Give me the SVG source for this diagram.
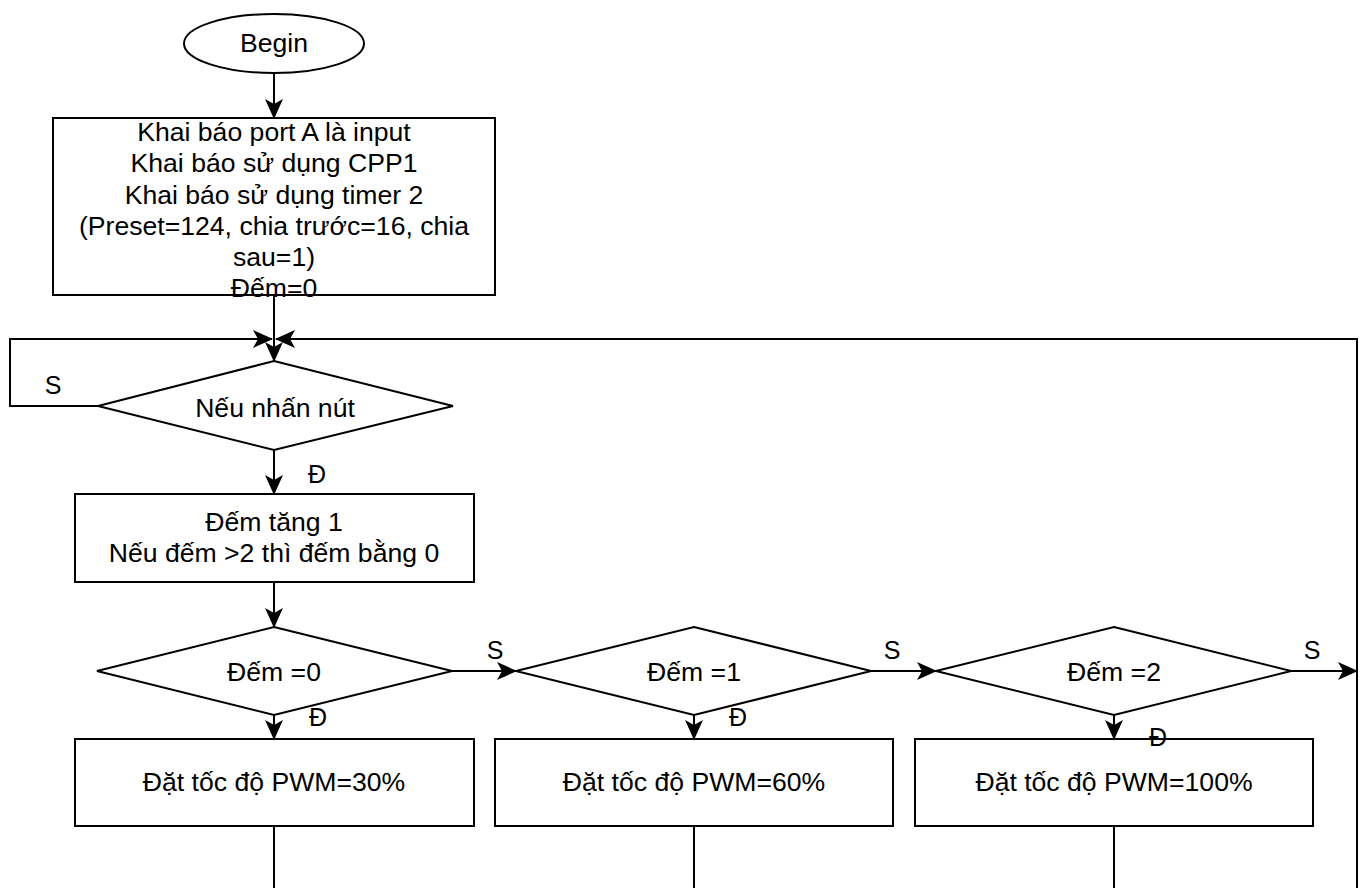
<svg xmlns="http://www.w3.org/2000/svg" width="1366" height="888" viewBox="0 0 1366 888">
<defs>
<marker id="arr" viewBox="0 0 20 18" refX="19" refY="9" markerWidth="20" markerHeight="18" markerUnits="userSpaceOnUse" orient="auto">
<path d="M0,0 L20,9 L0,18 L5,9 Z" fill="#000"/>
</marker>
<style>
.s{fill:#fff;stroke:#000;stroke-width:2}
.e{fill:none;stroke:#000;stroke-width:2}
.t{font-family:"Liberation Sans",Arial,Helvetica,sans-serif;font-size:26.6px;fill:#000;text-anchor:middle}
.l{font-family:"Liberation Sans",Arial,Helvetica,sans-serif;font-size:25px;fill:#000;text-anchor:middle}
</style>
</defs>
<rect width="1366" height="888" fill="#fff"/>
<g id="begin">
<ellipse class="s" cx="274" cy="43.5" rx="90" ry="29.5"/>
<text class="t" x="274" y="52">Begin</text>
</g>
<g id="init">
<rect class="s" x="53" y="118" width="442" height="177"/>
<text class="t" x="274" y="141">Khai báo port A là input</text>
<text class="t" x="274" y="172">Khai báo sử dụng CPP1</text>
<text class="t" x="274" y="203.5">Khai báo sử dụng timer 2</text>
<text class="t" x="274" y="235">(Preset=124, chia trước=16, chia</text>
<text class="t" x="274" y="266">sau=1)</text>
<text class="t" x="274" y="297">Đếm=0</text>
</g>
<g id="button">
<polygon class="s" points="274,361 453,406 274,450 98,406"/>
<text class="t" x="275" y="417">Nếu nhấn nút</text>
</g>
<g id="count">
<rect class="s" x="75" y="494" width="399" height="88"/>
<text class="t" x="274" y="531">Đếm tăng 1</text>
<text class="t" x="274" y="562">Nếu đếm &gt;2 thì đếm bằng 0</text>
</g>
<g id="d0">
<polygon class="s" points="274,627 452,671 274,715 97,671"/>
<text class="t" x="274" y="681">Đếm =0</text>
</g>
<g id="d1">
<polygon class="s" points="694,627 871,671 694,715 516,671"/>
<text class="t" x="694" y="681">Đếm =1</text>
</g>
<g id="d2">
<polygon class="s" points="1114,627 1291,671 1114,715 936,671"/>
<text class="t" x="1114" y="681">Đếm =2</text>
</g>
<g id="p30">
<rect class="s" x="75" y="739" width="399" height="87"/>
<text class="t" x="274" y="791">Đặt tốc độ PWM=30%</text>
</g>
<g id="p60">
<rect class="s" x="495" y="739" width="398" height="87"/>
<text class="t" x="694" y="791">Đặt tốc độ PWM=60%</text>
</g>
<g id="p100">
<rect class="s" x="915" y="739" width="398" height="87"/>
<text class="t" x="1114" y="791">Đặt tốc độ PWM=100%</text>
</g>
<g id="connectors">
<path class="e" d="M274,73 L274,118" marker-end="url(#arr)"/>
<path class="e" d="M274,295 L274,361" marker-end="url(#arr)"/>
<path class="e" d="M98,406 L10,406 L10,339 L272,339" marker-end="url(#arr)"/>
<path class="e" d="M1357,888 L1357,339 L276,339" marker-end="url(#arr)"/>
<path class="e" d="M274,450 L274,494" marker-end="url(#arr)"/>
<path class="e" d="M274,582 L274,627" marker-end="url(#arr)"/>
<path class="e" d="M452,671 L516,671" marker-end="url(#arr)"/>
<path class="e" d="M871,671 L936,671" marker-end="url(#arr)"/>
<path class="e" d="M1291,671 L1357,671" marker-end="url(#arr)"/>
<path class="e" d="M274,715 L274,739" marker-end="url(#arr)"/>
<path class="e" d="M694,715 L694,739" marker-end="url(#arr)"/>
<path class="e" d="M1114,715 L1114,739" marker-end="url(#arr)"/>
<path class="e" d="M274,826 L274,888"/>
<path class="e" d="M694,826 L694,888"/>
<path class="e" d="M1114,826 L1114,888"/>
<text class="l" x="53" y="394">S</text>
<text class="l" x="317" y="483">Đ</text>
<text class="l" x="495" y="659">S</text>
<text class="l" x="892" y="659">S</text>
<text class="l" x="1312" y="659">S</text>
<text class="l" x="318" y="726">Đ</text>
<text class="l" x="738" y="726">Đ</text>
<text class="l" x="1158" y="746">Đ</text>
</g>
</svg>
